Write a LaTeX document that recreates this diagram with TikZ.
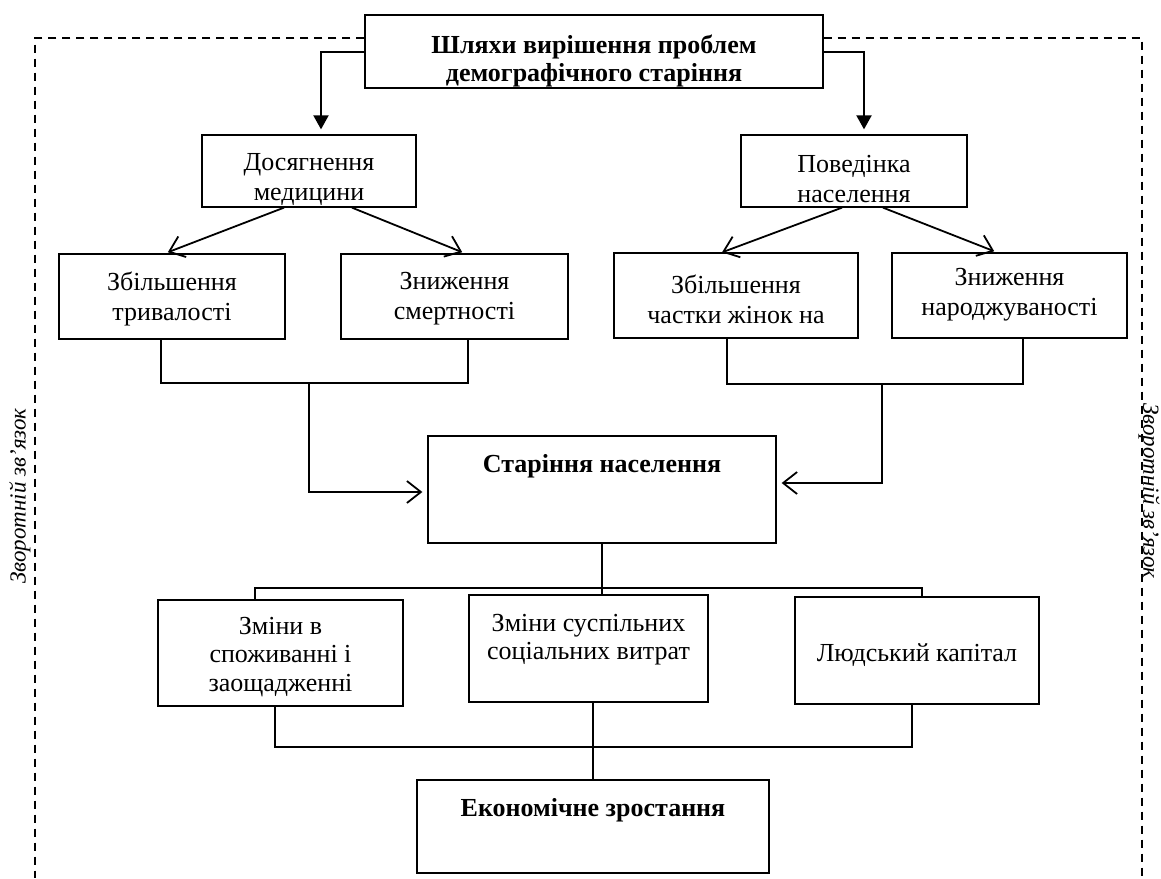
\documentclass[tikz,border=0pt]{standalone}
\usepackage{fontspec}
\setmainfont{Liberation Serif}
\usetikzlibrary{arrows.meta}
\tikzset{
  box/.style={draw, line width=1.3pt, inner sep=0pt},
  txt/.style={inner sep=0pt, align=center, font=\fontsize{26}{30}\selectfont},
  btxt/.style={inner sep=0pt, align=center, font=\fontsize{26}{28}\selectfont\bfseries},
  ln/.style={line width=1.3pt},
  farr/.style={line width=2pt, -{Triangle[length=14pt,width=15pt]}, shorten >=5pt},
  oarr/.style={line width=1.8pt, -{Straight Barb[length=14pt,width=22pt]}},
  fb/.style={dash pattern=on 8pt off 6pt, line width=1.3pt},
  fbtxt/.style={inner sep=0pt, font=\fontsize{23}{28}\selectfont\itshape}
}
\begin{document}
\begin{tikzpicture}[x=1pt,y=-1pt]
\useasboundingbox (0,0) rectangle (1161,878);
% boxes
\node[box, minimum width=458pt, minimum height=73pt] (top) at (594,51.5) {};
\node[box, minimum width=214pt, minimum height=72pt] (med) at (309,171) {};
\node[box, minimum width=226pt, minimum height=72pt] (beh) at (854,171) {};
\node[box, minimum width=226pt, minimum height=85pt] (l1) at (172,296.5) {};
\node[box, minimum width=227pt, minimum height=85pt] (l2) at (454.5,296.5) {};
\node[box, minimum width=244pt, minimum height=85pt] (r1) at (736,295.5) {};
\node[box, minimum width=235pt, minimum height=85pt] (r2) at (1009.5,295.5) {};
\node[box, minimum width=348pt, minimum height=107pt] (aging) at (602,489.5) {};
\node[box, minimum width=245pt, minimum height=106pt] (c1) at (280.5,653) {};
\node[box, minimum width=239pt, minimum height=107pt] (c2) at (588.5,648.5) {};
\node[box, minimum width=244pt, minimum height=107pt] (c3) at (917,650.5) {};
\node[box, minimum width=352pt, minimum height=93pt] (econ) at (593,826.5) {};
% texts
\node[btxt] (topt) at (594,61) {Шляхи вирішення проблем\\демографічного старіння};
\node[txt] (medt) at (309,179.5) {Досягнення\\медицини};
\node[txt] (beht) at (854,179.5) {Поведінка\\населення};
\node[txt] (l1t) at (172,299) {Збільшення\\тривалості};
\node[txt] (l2t) at (454.5,298.5) {Зниження\\смертності};
\node[txt] (r1t) at (736,299) {Збільшення\\частки жінок на};
\node[txt] (r2t) at (1009.5,295) {Зниження\\народжуваності};
\node[btxt, anchor=base] (agingt) at (602,472) {Старіння населення};
\node[txt, font=\fontsize{26}{28.5}\selectfont] (c1t) at (280.5,657) {Зміни в\\споживанні і\\заощадженні};
\node[txt, font=\fontsize{26}{28}\selectfont] (c2t) at (588.5,640) {Зміни суспільних\\соціальних витрат};
\node[txt, anchor=base] (c3t) at (917,661) {Людський капітал};
\node[btxt, anchor=base] (econt) at (593,816) {Економічне зростання};
\node[fbtxt, rotate=90] (fbl) at (20,496) {Зворотній зв’язок};
\node[fbtxt, rotate=-90] (fbr) at (1149,491) {Зворотній зв’язок};
% junction coordinates
\coordinate (fl) at (35,878);
\coordinate (fr) at (1142,878);
\coordinate (jl) at (309,383);
\coordinate (jr) at (882,384);
\coordinate (jt) at (602,588);
\coordinate (jb) at (593,747);
% feedback frame
\draw[fb] ([yshift=13.5pt]top.west) -| (fl);
\draw[fb] ([yshift=13.5pt]top.east) -| (fr);
% top arrows
\draw[farr] (top.west) -| ([xshift=12pt]med.north);
\draw[farr] (top.east) -| ([xshift=10pt]beh.north);
% diagonal arrows
\draw[oarr, shorten >=3pt] ([xshift=-25pt]med.south) -- ([xshift=-7pt]l1.north);
\draw[oarr, shorten >=3pt] ([xshift=43pt]med.south) -- ([xshift=10.5pt]l2.north);
\draw[oarr] ([xshift=-12pt]beh.south) -- ([xshift=-14pt]r1.north);
\draw[oarr, shorten >=3pt] ([xshift=29pt]beh.south) -- ([xshift=-12.5pt]r2.north);
% brackets to ageing
\draw[ln] ([xshift=-11pt]l1.south) |- (jl) -| ([xshift=13.5pt]l2.south);
\draw[ln] ([xshift=-9pt]r1.south) |- (jr) -| ([xshift=13.5pt]r2.south);
\draw[oarr, shorten >=5pt] (jl) |- ([yshift=-2.5pt]aging.west);
\draw[oarr, shorten >=5pt] (jr) |- ([yshift=6.5pt]aging.east);
% ageing to consequences
\draw[ln] (aging.south) -- ([xshift=13.5pt]c2.north);
\draw[ln] ([xshift=-25.5pt]c1.north) |- (jt) -| ([xshift=5pt]c3.north);
% consequences to growth
\draw[ln] ([xshift=-5.5pt]c1.south) |- (jb) -| ([xshift=-5pt]c3.south);
\draw[ln] ([xshift=4.5pt]c2.south) -- (econ.north);
\end{tikzpicture}
\end{document}
